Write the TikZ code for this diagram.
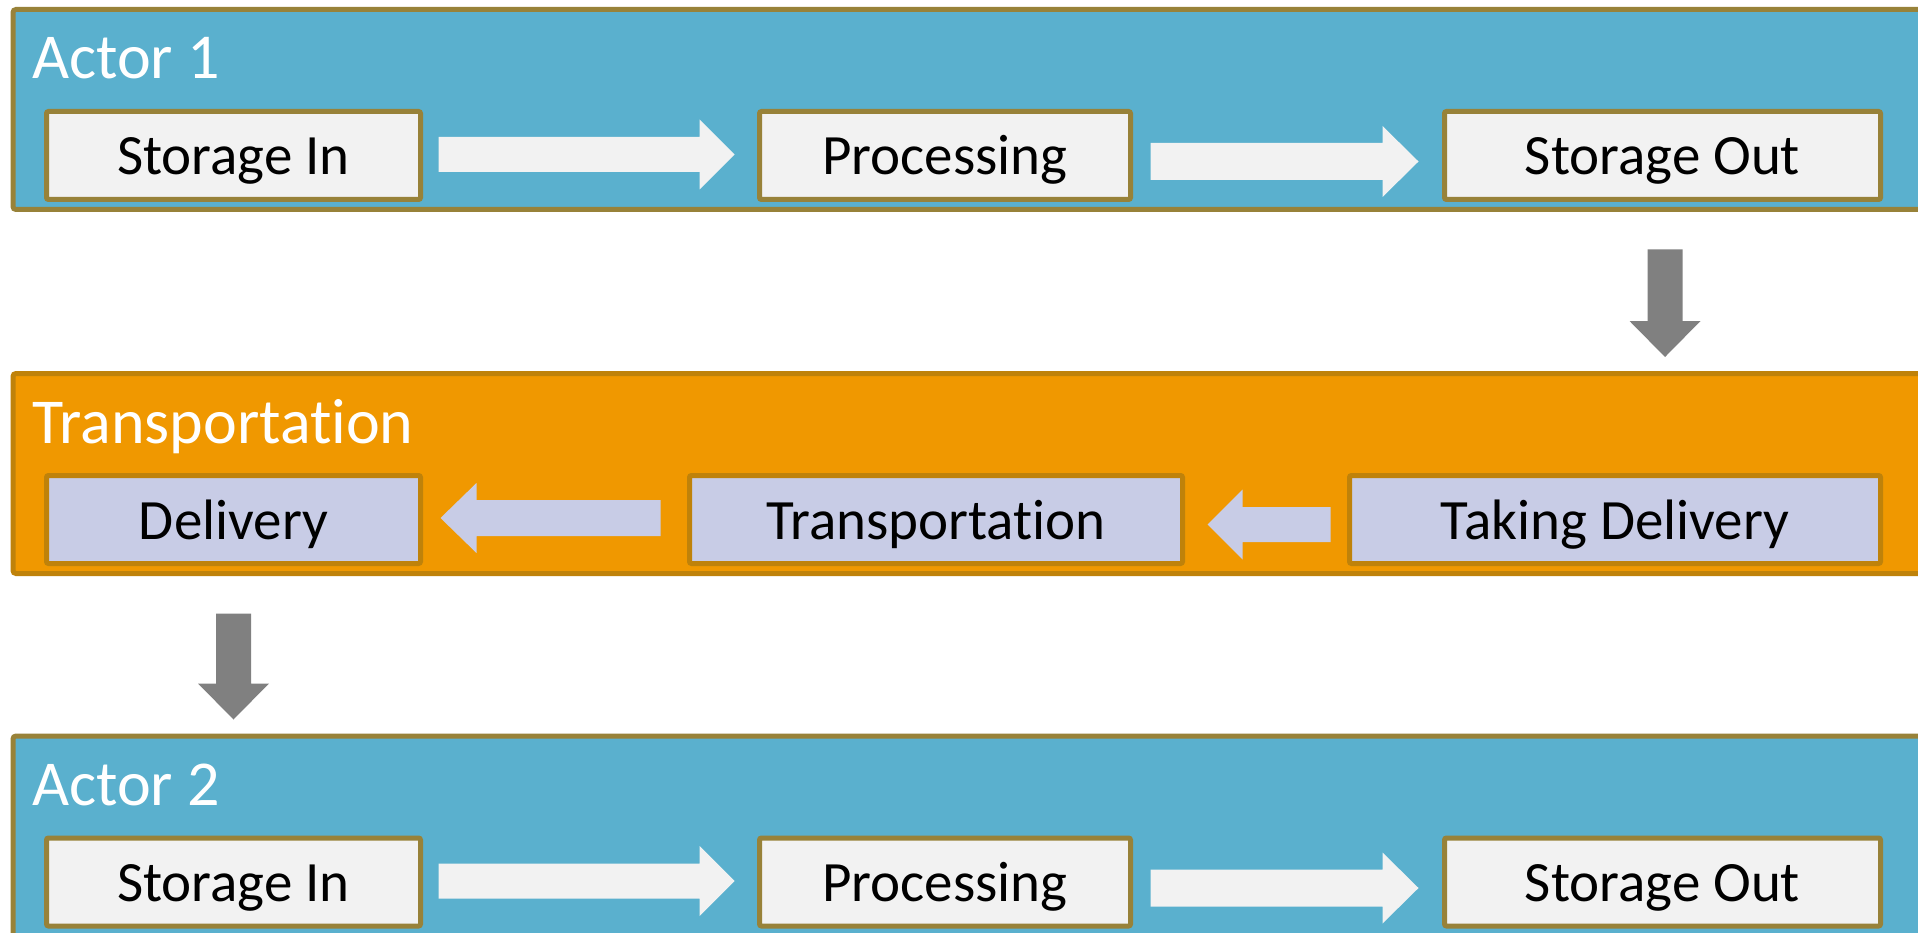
\documentclass[tikz,border=0pt]{standalone}
\usepackage{fontspec}
\setmainfont{Carlito}[RawFeature={-liga;-clig;-calt;-dlig}]
\usetikzlibrary{calc}

\definecolor{bandblue}{HTML}{5AB0CE}
\definecolor{goldline}{HTML}{988239}
\definecolor{boxgray}{HTML}{F2F2F2}
\definecolor{bandorange}{HTML}{F09800}
\definecolor{orangeline}{HTML}{BF820A}
\definecolor{lavender}{HTML}{C8CCE6}
\definecolor{arrowgray}{HTML}{808080}

% block arrow: #1 fill style, #2 tail coordinate, #3 tip coordinate,
% #4 half shaft width, #5 half head width, #6 head length
\newcommand\blockarrow[6]{%
  \coordinate (ba-h) at ($(#3)!#6!(#2)$);
  \fill[#1] ($(#2)!#4!90:(#3)$) -- ($(ba-h)!#4!90:(#3)$) -- ($(ba-h)!#5!90:(#3)$)
    -- (#3) -- ($(ba-h)!#5!-90:(#3)$) -- ($(ba-h)!#4!-90:(#3)$)
    -- ($(#2)!#4!-90:(#3)$) -- cycle;}

\tikzset{
  lane/.style={draw, line width=5pt, rounded corners=3pt, minimum height=200pt,
    minimum width=1917pt, inner sep=0pt},
  actorlane/.style={lane, fill=bandblue, draw=goldline},
  translane/.style={lane, fill=bandorange, draw=orangeline},
  stepbox/.style={draw, line width=5pt, rounded corners=2pt, minimum height=88pt,
    inner sep=0pt, text height=39pt, text depth=0pt,
    font=\fontsize{57}{61}\selectfont},
  actorbox/.style={stepbox, fill=boxgray, draw=goldline},
  transbox/.style={stepbox, fill=lavender, draw=orangeline},
  lanetitle/.style={anchor=base west, inner sep=0pt, text=white,
    font=\fontsize{64}{70}\selectfont},
  whitearrow/.style={fill=boxgray},
  lavarrow/.style={fill=lavender},
  grayarrow/.style={fill=arrowgray}
}

\begin{document}
\begin{tikzpicture}[x=1pt,y=-1pt]
\clip (0,0) rectangle (1918,933);
\fill[white] (0,0) rectangle (1918,933);

% lanes
\node[actorlane] (actor1) at (971.5,109.5) {};
\node[translane] (transp) at (971.5,473.5) {};
\node[actorlane] (actor2) at (971.5,836.0) {};

% lane titles
\node[lanetitle] (t1) at (32,79) {Actor 1};
\node[lanetitle] (t2) at (32,443) {Transportation};
\node[lanetitle] (t3) at (32,805.5) {Actor 2};

% actor 1 steps
\node[actorbox, minimum width=374pt] (si1) at (233.5,155.5) {Storage In};
\node[actorbox, minimum width=371pt] (pr1) at (945,155.5) {Processing};
\node[actorbox, minimum width=436pt] (so1) at (1662.5,155.5) {Storage Out};

% transportation steps
\node[transbox, minimum width=374pt] (de2) at (233.5,519.5) {Delivery};
\node[transbox, minimum width=493pt] (tr2) at (936,519.5) {Transportation};
\node[transbox, minimum width=531pt] (td2) at (1615,519.5) {Taking Delivery};

% actor 2 steps
\node[actorbox, minimum width=374pt] (si3) at (233.5,882) {Storage In};
\node[actorbox, minimum width=371pt] (pr3) at (945,882) {Processing};
\node[actorbox, minimum width=436pt] (so3) at (1662.5,882) {Storage Out};

% arrows inside actor 1
\coordinate (a1s) at ($(si1.east)+(15.5,-1)$);
\coordinate (a1e) at ($(pr1.west)+(-22.5,-1)$);
\blockarrow{whitearrow}{a1s}{a1e}{17.5pt}{35pt}{35pt}
\coordinate (a2s) at ($(pr1.east)+(17.5,6)$);
\coordinate (a2e) at ($(so1.west)+(-23.5,6)$);
\blockarrow{whitearrow}{a2s}{a2e}{18.5pt}{35.5pt}{36pt}

% arrows inside transportation (right to left)
\coordinate (b1s) at ($(td2.west)+(-16.5,5)$);
\coordinate (b1e) at ($(tr2.east)+(22.5,5)$);
\blockarrow{lavarrow}{b1s}{b1e}{17.5pt}{35pt}{35pt}
\coordinate (b2s) at ($(tr2.west)+(-26.5,-1.5)$);
\coordinate (b2e) at ($(de2.east)+(17.5,-1.5)$);
\blockarrow{lavarrow}{b2s}{b2e}{18pt}{35pt}{36pt}

% arrows inside actor 2
\coordinate (c1s) at ($(si3.east)+(15.5,-1)$);
\coordinate (c1e) at ($(pr3.west)+(-22.5,-1)$);
\blockarrow{whitearrow}{c1s}{c1e}{17.5pt}{35pt}{35pt}
\coordinate (c2s) at ($(pr3.east)+(17.5,6)$);
\coordinate (c2e) at ($(so3.west)+(-23.5,6)$);
\blockarrow{whitearrow}{c2s}{c2e}{18.5pt}{35.5pt}{36pt}

% hand-over arrows between lanes
\coordinate (d1s) at ($(so1.south)+(2.5,47.5)$);
\coordinate (d1e) at ($(d1s |- transp.north)+(0,-14)$);
\blockarrow{grayarrow}{d1s}{d1e}{17.5pt}{35.5pt}{36pt}
\coordinate (d2s) at ($(de2.south)+(0,47.5)$);
\coordinate (d2e) at ($(d2s |- actor2.north)+(0,-14)$);
\blockarrow{grayarrow}{d2s}{d2e}{17.5pt}{35.5pt}{36pt}
\end{tikzpicture}
\end{document}
